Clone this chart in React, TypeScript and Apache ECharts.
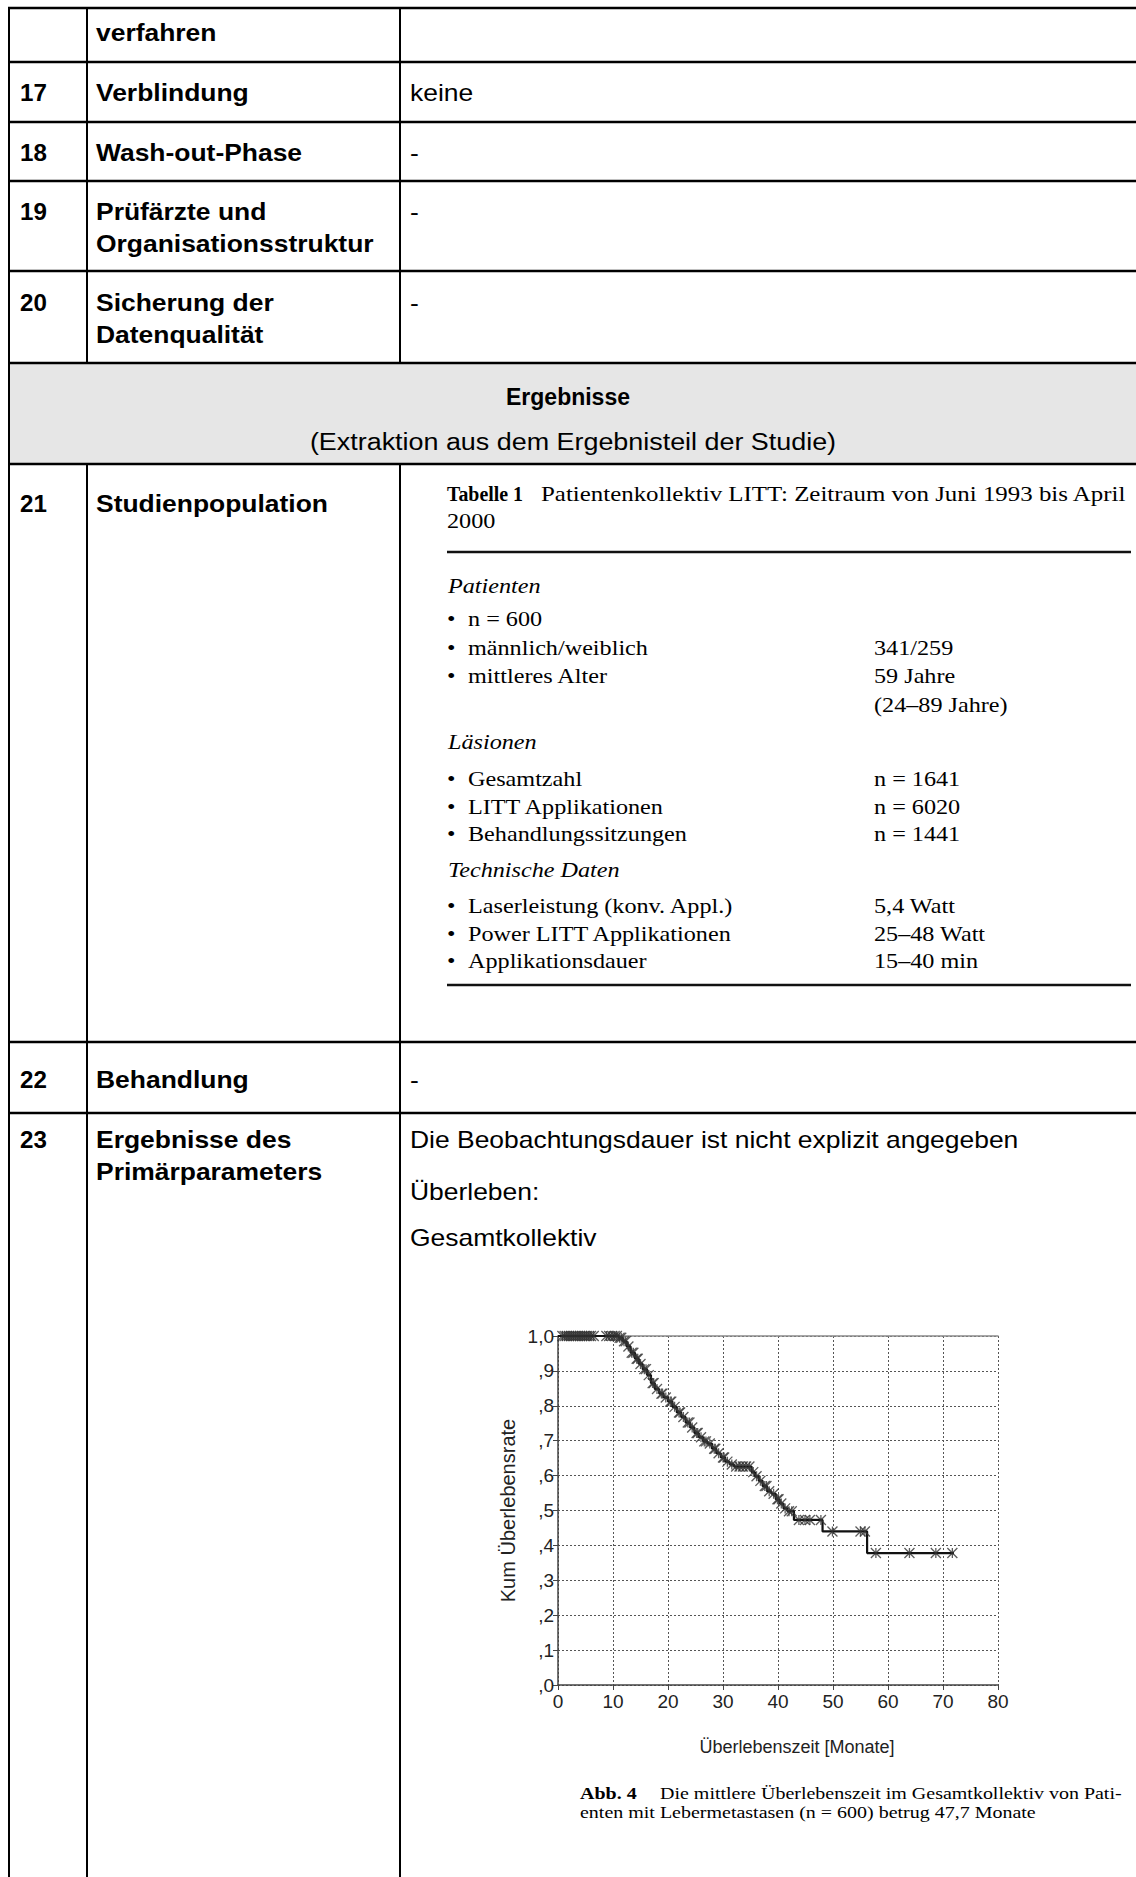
import React, { useEffect, useRef } from "react";
import * as echarts from "echarts";

// ---------- chart data ----------
const kmTime = [0, 11.0, 11.8, 12.5, 13.2, 14.0, 14.7, 15.4, 16.2, 16.9, 17.6, 18.4, 19.2, 20.0, 20.8, 21.6, 22.4, 23.2, 24.0, 24.8, 25.6, 26.4, 27.2, 28.0, 28.8, 29.6, 30.4, 31.2, 32.0, 35.2, 35.8, 36.5, 37.2, 38.0, 38.8, 39.6, 40.3, 41.0, 41.7, 42.9, 48.1, 56.2, 72.0];
const kmSurv = [1.0, 0.995, 0.985, 0.97, 0.952, 0.935, 0.92, 0.905, 0.888, 0.865, 0.848, 0.835, 0.824, 0.812, 0.797, 0.781, 0.768, 0.752, 0.738, 0.722, 0.71, 0.698, 0.692, 0.677, 0.664, 0.652, 0.64, 0.632, 0.626, 0.61, 0.598, 0.585, 0.57, 0.555, 0.548, 0.532, 0.52, 0.506, 0.498, 0.473, 0.44, 0.378, 0.378];
const censorTime = [0.8, 1.2, 1.6, 2.0, 2.4, 2.8, 3.2, 3.6, 4.0, 4.4, 4.8, 5.2, 5.6, 6.0, 6.5, 8.8, 9.3, 9.8, 10.3, 10.7, 11.2, 11.5, 12.0, 12.3, 12.8, 13.4, 13.7, 14.3, 14.5, 15.0, 15.7, 16.0, 16.5, 17.2, 17.4, 18.0, 18.8, 19.0, 19.6, 20.4, 20.6, 21.2, 22.0, 22.2, 22.8, 23.6, 23.9, 24.4, 25.2, 25.4, 26.0, 26.6, 26.9, 27.6, 28.4, 28.6, 29.2, 30.0, 30.2, 30.8, 31.6, 32.4, 33.0, 33.6, 34.2, 34.8, 35.5, 36.1, 36.8, 37.6, 37.9, 38.4, 39.2, 39.9, 40.1, 40.6, 41.3, 42.0, 42.5, 43.8, 44.9, 45.8, 47.8, 49.9, 55.0, 55.8, 57.8, 63.9, 68.7, 71.7];
const censorSurv = [1.0, 1.0, 1.0, 1.0, 1.0, 1.0, 1.0, 1.0, 1.0, 1.0, 1.0, 1.0, 1.0, 1.0, 1.0, 1.0, 1.0, 1.0, 1.0, 1.0, 0.995, 0.995, 0.985, 0.985, 0.97, 0.952, 0.952, 0.935, 0.935, 0.92, 0.905, 0.905, 0.888, 0.865, 0.865, 0.848, 0.835, 0.835, 0.824, 0.812, 0.812, 0.797, 0.781, 0.781, 0.768, 0.752, 0.752, 0.738, 0.722, 0.722, 0.71, 0.698, 0.698, 0.692, 0.677, 0.677, 0.664, 0.652, 0.652, 0.64, 0.632, 0.626, 0.626, 0.626, 0.626, 0.626, 0.61, 0.598, 0.585, 0.57, 0.57, 0.555, 0.548, 0.532, 0.532, 0.52, 0.506, 0.498, 0.498, 0.473, 0.473, 0.473, 0.473, 0.44, 0.44, 0.44, 0.378, 0.378, 0.378, 0.378];
const yTickLabels = [",0", ",1", ",2", ",3", ",4", ",5", ",6", ",7", ",8", ",9", "1,0"];
const xAxisTitle = "Überlebenszeit [Monate]";
const yAxisTitle = "Kum Überlebensrate";

// ---------- table texts ----------
const rowNumbers = ["", "17", "18", "19", "20", "21", "22", "23"];
const rowLabels = [
  ["verfahren"],
  ["Verblindung"],
  ["Wash-out-Phase"],
  ["Prüfärzte und", "Organisationsstruktur"],
  ["Sicherung der", "Datenqualität"],
  ["Studienpopulation"],
  ["Behandlung"],
  ["Ergebnisse des", "Primärparameters"],
];
const rowValues = [[], ["keine"], ["-"], ["-"], ["-"], [], ["-"], ["Die Beobachtungsdauer ist nicht explizit angegeben", "Überleben:", "Gesamtkollektiv"]];
const headerTitle = "Ergebnisse";
const headerSub = "(Extraktion aus dem Ergebnisteil der Studie)";

const tabTitleBold = "Tabelle 1";
const tabTitleRest = "Patientenkollektiv LITT: Zeitraum von Juni 1993 bis April";
const tabTitleLine2 = "2000";
const tabSections = ["Patienten", "Läsionen", "Technische Daten"];
const tabItems = [
  ["n = 600", "", "männlich/weiblich", "341/259", "mittleres Alter", "59 Jahre", "", "(24–89 Jahre)"],
  ["Gesamtzahl", "n = 1641", "LITT Applikationen", "n = 6020", "Behandlungssitzungen", "n = 1441"],
  ["Laserleistung (konv. Appl.)", "5,4 Watt", "Power LITT Applikationen", "25–48 Watt", "Applikationsdauer", "15–40 min"],
];
const captionBold = "Abb. 4";
const captionLine1 = "Die mittlere Überlebenszeit im Gesamtkollektiv von Pati-";
const captionLine2 = "enten mit Lebermetastasen (n = 600) betrug 47,7 Monate";

// ---------- layout ----------
const SANS = '"Liberation Sans", Arial, sans-serif';
const SERIF = '"Liberation Serif", "Times New Roman", serif';
const SX = 1.15;

function txt(text: string, x: number, y: number, font: string, sx = SX, align = "left", fill = "#000") {
  return {
    type: "text",
    x,
    y,
    scaleX: sx,
    silent: true,
    style: {
      text,
      x: 0,
      y: 0,
      font,
      fill,
      textAlign: align,
      textVerticalAlign: "middle",
      align,
      verticalAlign: "middle",
    },
  };
}
function ln(x1: number, y1: number, x2: number, y2: number, w: number, color = "#000") {
  return { type: "line", silent: true, shape: { x1, y1, x2, y2 }, style: { stroke: color, lineWidth: w } };
}

export default function App() {
  const ref = useRef<HTMLDivElement>(null);
  useEffect(() => {
    if (!ref.current) return;
    const chart = echarts.init(ref.current, undefined, { renderer: "svg" });
    const g: any[] = [];
    // header background
    g.push({ type: "rect", silent: true, shape: { x: 9, y: 363, width: 1135, height: 101 }, style: { fill: "#e6e6e6" } });
    // horizontal rules
    [8, 62, 122, 181, 271, 363, 464, 1042, 1113].forEach((y) => g.push(ln(8, y, 1140, y, 2.5)));
    // vertical rules
    g.push(ln(9, 7, 9, 1877, 2));
    [87, 400].forEach((x) => {
      g.push(ln(x, 8, x, 363, 2));
      g.push(ln(x, 464, x, 1877, 2));
    });
    // row texts
    const rowY = [33, 93, 153, 212, 303, 504, 1080, 1140];
    const bold = `bold 23px ${SANS}`;
    const reg = `23px ${SANS}`;
    rowNumbers.forEach((n, i) => {
      if (n) g.push(txt(n, 20, rowY[i], bold, 1.05));
      rowLabels[i].forEach((l, k) => g.push(txt(l, 96, rowY[i] + k * 32, bold)));
    });
    const valY = [[], [93], [153], [212], [303], [], [1080], [1140, 1192, 1238]];
    rowValues.forEach((vals, i) => vals.forEach((v, k) => g.push(txt(v, 410, valY[i][k], reg))));
    g.push(txt(headerTitle, 568, 397, bold, 1.0, "center"));
    g.push(txt(headerSub, 573, 442, reg, 1.17, "center"));

    // embedded serif table
    const sf = 20.5;
    const ssx = 1.18;
    g.push(txt(tabTitleBold, 447, 494, `bold ${sf}px ${SERIF}`, 0.97));
    g.push(txt(tabTitleRest, 541, 494, `${sf}px ${SERIF}`, 1.215));
    g.push(txt(tabTitleLine2, 447, 521, `${sf}px ${SERIF}`, ssx));
    g.push(ln(447, 552, 1131, 552, 2.5, "#111"));
    g.push(ln(447, 985, 1131, 985, 2.5, "#111"));
    const secY = [586, 742, 870];
    const itemY = [[619, 648, 676, 705], [779, 807, 834], [906, 934, 961]];
    tabSections.forEach((s, si) => {
      g.push(txt(s, 448, secY[si], `italic ${sf}px ${SERIF}`, ssx));
      const items = tabItems[si];
      for (let k = 0; k < items.length / 2; k++) {
        const left = items[2 * k];
        const right = items[2 * k + 1];
        const y = itemY[si][k];
        if (left) {
          g.push(txt("•", 447, y, `${sf}px ${SERIF}`, ssx));
          g.push(txt(left, 468, y, `${sf}px ${SERIF}`, ssx));
        }
        if (right) g.push(txt(right, 874, y, `${sf}px ${SERIF}`, ssx));
      }
    });

    // caption
    const cf = 16.8;
    const csx = 1.19;
    const cFont = `${cf}px ${SERIF}`;
    g.push(txt(captionBold, 580, 1794, `bold ${cf}px ${SERIF}`, csx));
    g.push(txt(captionLine1, 660, 1794, cFont, csx));
    g.push(txt(captionLine2, 580, 1813, cFont, csx));

    chart.setOption({
      animation: false,
      backgroundColor: "#ffffff",
      textStyle: { fontFamily: SANS },
      graphic: g,
      grid: {
        left: 558,
        top: 1336,
        width: 440,
        height: 349,
        show: false,
      },
      xAxis: [
        {
          type: "value",
          min: 0,
          max: 80,
          interval: 10,
          name: xAxisTitle,
          nameLocation: "middle",
          nameGap: 53,
          nameTextStyle: { fontSize: 18, color: "#222", fontFamily: SANS, padding: [0, 0, 0, 38] },
          axisLine: { show: true, lineStyle: { color: "#444", width: 1.5 } },
          axisTick: { show: true, length: 5, lineStyle: { color: "#444" } },
          axisLabel: { fontSize: 19, color: "#222", margin: 7 },
          splitLine: { show: true, lineStyle: { type: [2, 2], color: "#555", width: 1 } },
        },
        {
          type: "value",
          position: "top",
          min: 0,
          max: 80,
          interval: 10,
          axisLine: { show: true, onZero: false, lineStyle: { color: "#8a8a8a", width: 1.5 } },
          axisTick: { show: false },
          axisLabel: { show: false },
          splitLine: { show: false },
        },
      ],
      yAxis: {
        type: "value",
        min: 0,
        max: 1,
        interval: 0.1,
        name: yAxisTitle,
        nameLocation: "middle",
        nameRotate: 90,
        nameGap: 40,
        nameTextStyle: { fontSize: 20, color: "#222", fontFamily: SANS },
        axisLine: { show: true, lineStyle: { color: "#444", width: 1.5 } },
        axisTick: { show: true, length: 5, lineStyle: { color: "#444" } },
        axisLabel: {
          fontSize: 19,
          color: "#222",
          margin: 4,
          formatter: (v: number) => yTickLabels[Math.round(v * 10)],
        },
        splitLine: { show: true, lineStyle: { type: [2, 2], color: "#555", width: 1 } },
      },
      series: [
        {
          type: "line",
          data: kmTime.map((t, i) => [t, kmSurv[i]]),
          step: "end",
          symbol: "none",
          showSymbol: false,
          lineStyle: { color: "#111", width: 2.2 },
          z: 3,
        },
        {
          type: "scatter",
          data: censorTime.map((t, i) => [t, censorSurv[i]]),
          symbol: "path://M0,0L10,10M10,0L0,10M5,0L5,10",
          symbolSize: 10,
          itemStyle: { color: "#333", borderColor: "#333", borderWidth: 1.3, opacity: 0.8 },
          z: 4,
        },
      ],
    });
    return () => chart.dispose();
  }, []);
  return <div ref={ref} style={{ position: "absolute", left: 0, top: 0, width: 1136, height: 1877, background: "#fff" }} />;
}
